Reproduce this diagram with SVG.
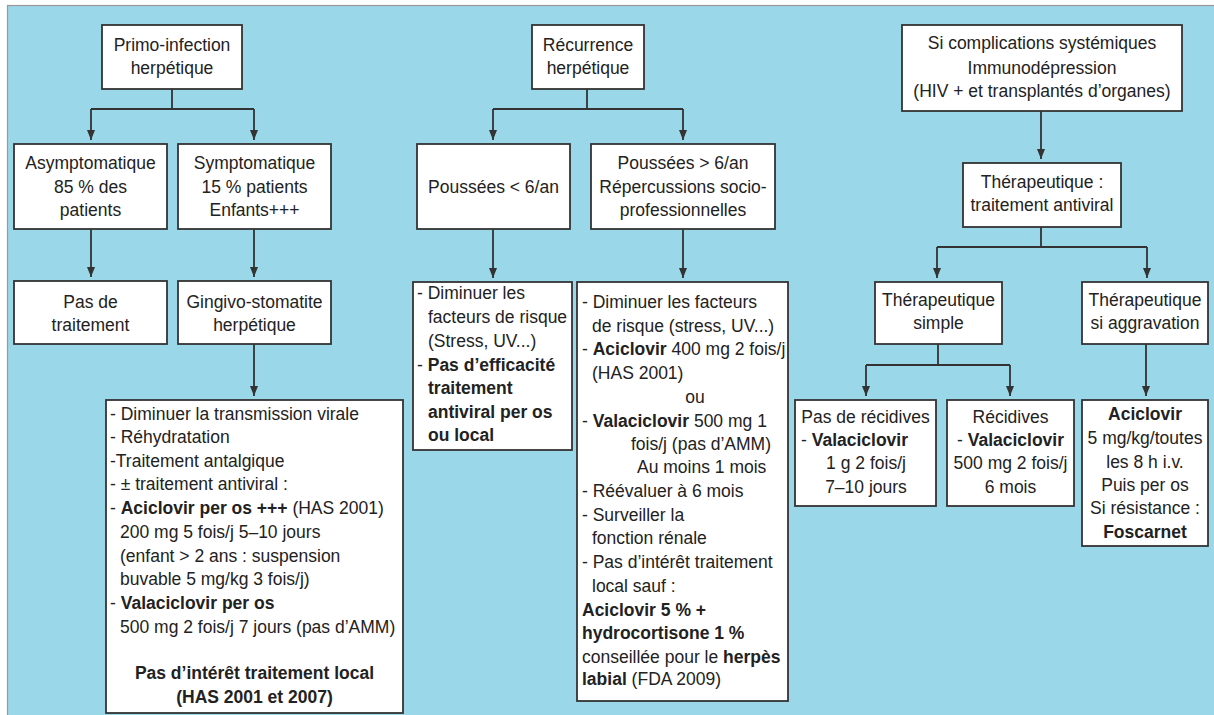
<svg xmlns="http://www.w3.org/2000/svg" width="1214" height="715" viewBox="0 0 1214 715">
<defs>
<style>
.box{fill:#fff;stroke:#333;stroke-width:1.8}
.t{font-family:"Liberation Sans",Arial,Helvetica,sans-serif;font-size:17.5px;fill:#222}
.c{text-anchor:middle}
.b{font-weight:bold}
.ln{fill:none;stroke:#333;stroke-width:1.8}
</style>
<marker id="ah" viewBox="0 0 10 8" refX="10" refY="4" markerWidth="10" markerHeight="8" markerUnits="userSpaceOnUse" orient="auto">
<path d="M0,0 L10,4 L0,8 z" fill="#333"/>
</marker>
</defs>
<rect x="0" y="0" width="1214" height="715" fill="#fff"/>
<rect x="7.5" y="5.5" width="1210" height="712" fill="#9ad7e9" stroke="#999" stroke-width="1.2"/>

<g id="connectors">
<path class="ln" d="M172,89 V109 M91,109 H254"/>
<path class="ln" d="M91,109 V140" marker-end="url(#ah)"/>
<path class="ln" d="M254,109 V140" marker-end="url(#ah)"/>
<path class="ln" d="M91,229 V277" marker-end="url(#ah)"/>
<path class="ln" d="M254,229 V277" marker-end="url(#ah)"/>
<path class="ln" d="M254,344 V396" marker-end="url(#ah)"/>
<path class="ln" d="M587,89 V109 M493,109 H683"/>
<path class="ln" d="M493,109 V140" marker-end="url(#ah)"/>
<path class="ln" d="M683,109 V140" marker-end="url(#ah)"/>
<path class="ln" d="M493,229 V278" marker-end="url(#ah)"/>
<path class="ln" d="M683,229 V278" marker-end="url(#ah)"/>
<path class="ln" d="M1041,111 V159" marker-end="url(#ah)"/>
<path class="ln" d="M1041,227 V247 M937,247 H1147"/>
<path class="ln" d="M937,247 V278" marker-end="url(#ah)"/>
<path class="ln" d="M1147,247 V278" marker-end="url(#ah)"/>
<path class="ln" d="M938,344 V365 M866,365 H1010"/>
<path class="ln" d="M866,365 V396" marker-end="url(#ah)"/>
<path class="ln" d="M1010,365 V396" marker-end="url(#ah)"/>
<path class="ln" d="M1146,344 V396" marker-end="url(#ah)"/>
</g>

<g id="primo">
<rect class="box" x="102" y="25" width="140" height="64"/>
<text class="t c" x="172" y="51">Primo-infection</text>
<text class="t c" x="172" y="74">herpétique</text>
</g>

<g id="asympto">
<rect class="box" x="14" y="144" width="153" height="85"/>
<text class="t c" x="90.5" y="169">Asymptomatique</text>
<text class="t c" x="90.5" y="193">85 % des</text>
<text class="t c" x="90.5" y="216">patients</text>
</g>

<g id="sympto">
<rect class="box" x="178" y="144" width="153" height="85"/>
<text class="t c" x="254.5" y="169">Symptomatique</text>
<text class="t c" x="254.5" y="193">15 % patients</text>
<text class="t c" x="254.5" y="216">Enfants+++</text>
</g>

<g id="pas-traitement">
<rect class="box" x="14" y="281" width="153" height="63"/>
<text class="t c" x="90.5" y="308">Pas de</text>
<text class="t c" x="90.5" y="331">traitement</text>
</g>

<g id="gingivo">
<rect class="box" x="178" y="281" width="153" height="63"/>
<text class="t c" x="254.5" y="308">Gingivo-stomatite</text>
<text class="t c" x="254.5" y="331">herpétique</text>
</g>

<g id="traitement-primo">
<rect class="box" x="106" y="400" width="297" height="313"/>
<text class="t" x="110" y="420">- Diminuer la transmission virale</text>
<text class="t" x="110" y="443">- Réhydratation</text>
<text class="t" x="110" y="467">-Traitement antalgique</text>
<text class="t" x="110" y="490">- ± traitement antiviral :</text>
<text class="t" x="110" y="514">- <tspan class="b">Aciclovir per os +++</tspan> (HAS 2001)</text>
<text class="t" x="120" y="538">200 mg 5 fois/j 5–10 jours</text>
<text class="t" x="120" y="562">(enfant &gt; 2 ans : suspension</text>
<text class="t" x="120" y="585">buvable 5 mg/kg 3 fois/j)</text>
<text class="t" x="110" y="609">- <tspan class="b">Valaciclovir per os</tspan></text>
<text class="t" x="120" y="633">500 mg 2 fois/j 7 jours (pas d’AMM)</text>
<text class="t c b" x="254.5" y="679">Pas d’intérêt traitement local</text>
<text class="t c b" x="254.5" y="703">(HAS 2001 et 2007)</text>
</g>

<g id="recurrence">
<rect class="box" x="532" y="25" width="112" height="64"/>
<text class="t c" x="588" y="51">Récurrence</text>
<text class="t c" x="588" y="74">herpétique</text>
</g>

<g id="poussees-moins">
<rect class="box" x="417" y="144" width="153" height="85"/>
<text class="t c" x="493.5" y="193">Poussées &lt; 6/an</text>
</g>

<g id="poussees-plus">
<rect class="box" x="591" y="144" width="184" height="85"/>
<text class="t c" x="683" y="169">Poussées &gt; 6/an</text>
<text class="t c" x="683" y="193">Répercussions socio-</text>
<text class="t c" x="683" y="216">professionnelles</text>
</g>

<g id="traitement-moins">
<rect class="box" x="413" y="282" width="159" height="168"/>
<text class="t" x="417" y="299">- Diminuer les</text>
<text class="t" x="428" y="323">facteurs de risque</text>
<text class="t" x="428" y="347">(Stress, UV...)</text>
<text class="t" x="417" y="371">- <tspan class="b">Pas d’efficacité</tspan></text>
<text class="t b" x="428" y="394">traitement</text>
<text class="t b" x="428" y="418">antiviral per os</text>
<text class="t b" x="428" y="441">ou local</text>
</g>

<g id="traitement-plus">
<rect class="box" x="577" y="282" width="211" height="419"/>
<text class="t" x="582" y="308">- Diminuer les facteurs</text>
<text class="t" x="592" y="332">de risque (stress, UV...)</text>
<text class="t" x="582" y="355">- <tspan class="b">Aciclovir</tspan> 400 mg 2 fois/j</text>
<text class="t" x="592" y="379">(HAS 2001)</text>
<text class="t c" x="695" y="403">ou</text>
<text class="t" x="582" y="427">- <tspan class="b">Valaciclovir</tspan> 500 mg 1</text>
<text class="t" x="631" y="450">fois/j (pas d’AMM)</text>
<text class="t" x="637" y="473">Au moins 1 mois</text>
<text class="t" x="582" y="497">- Réévaluer à 6 mois</text>
<text class="t" x="582" y="521">- Surveiller la</text>
<text class="t" x="592" y="544">fonction rénale</text>
<text class="t" x="582" y="568">- Pas d’intérêt traitement</text>
<text class="t" x="592" y="592">local sauf :</text>
<text class="t b" x="582" y="616">Aciclovir 5 % +</text>
<text class="t b" x="582" y="639">hydrocortisone 1 %</text>
<text class="t" x="582" y="663">conseillée pour le <tspan class="b">herpès</tspan></text>
<text class="t" x="582" y="685"><tspan class="b">labial</tspan> (FDA 2009)</text>
</g>

<g id="complications">
<rect class="box" x="902" y="25" width="280" height="86"/>
<text class="t c" x="1042" y="49">Si complications systémiques</text>
<text class="t c" x="1042" y="74">Immunodépression</text>
<text class="t c" x="1042" y="97">(HIV + et transplantés d’organes)</text>
</g>

<g id="therapeutique">
<rect class="box" x="963" y="163" width="158" height="64"/>
<text class="t c" x="1042" y="188">Thérapeutique :</text>
<text class="t c" x="1042" y="211">traitement antiviral</text>
</g>

<g id="therap-simple">
<rect class="box" x="875" y="282" width="127" height="62"/>
<text class="t c" x="938.5" y="306">Thérapeutique</text>
<text class="t c" x="938.5" y="329">simple</text>
</g>

<g id="therap-aggravation">
<rect class="box" x="1082" y="282" width="126" height="62"/>
<text class="t c" x="1145" y="306">Thérapeutique</text>
<text class="t c" x="1145" y="329">si aggravation</text>
</g>

<g id="pas-recidives">
<rect class="box" x="795" y="400" width="141" height="106"/>
<text class="t c" x="865.5" y="423">Pas de récidives</text>
<text class="t" x="801" y="446">- <tspan class="b">Valaciclovir</tspan></text>
<text class="t c" x="866" y="469">1 g 2 fois/j</text>
<text class="t c" x="866" y="493">7–10 jours</text>
</g>

<g id="recidives">
<rect class="box" x="947" y="400" width="127" height="106"/>
<text class="t c" x="1010.5" y="423">Récidives</text>
<text class="t c" x="1010.5" y="446">- <tspan class="b">Valaciclovir</tspan></text>
<text class="t c" x="1010.5" y="469">500 mg 2 fois/j</text>
<text class="t c" x="1010.5" y="493">6 mois</text>
</g>

<g id="aciclovir-iv">
<rect class="box" x="1082" y="400" width="126" height="146"/>
<text class="t c b" x="1145" y="420">Aciclovir</text>
<text class="t c" x="1145" y="444">5 mg/kg/toutes</text>
<text class="t c" x="1145" y="468">les 8 h i.v.</text>
<text class="t c" x="1145" y="491">Puis per os</text>
<text class="t c" x="1145" y="514">Si résistance :</text>
<text class="t c b" x="1145" y="538">Foscarnet</text>
</g>
</svg>
